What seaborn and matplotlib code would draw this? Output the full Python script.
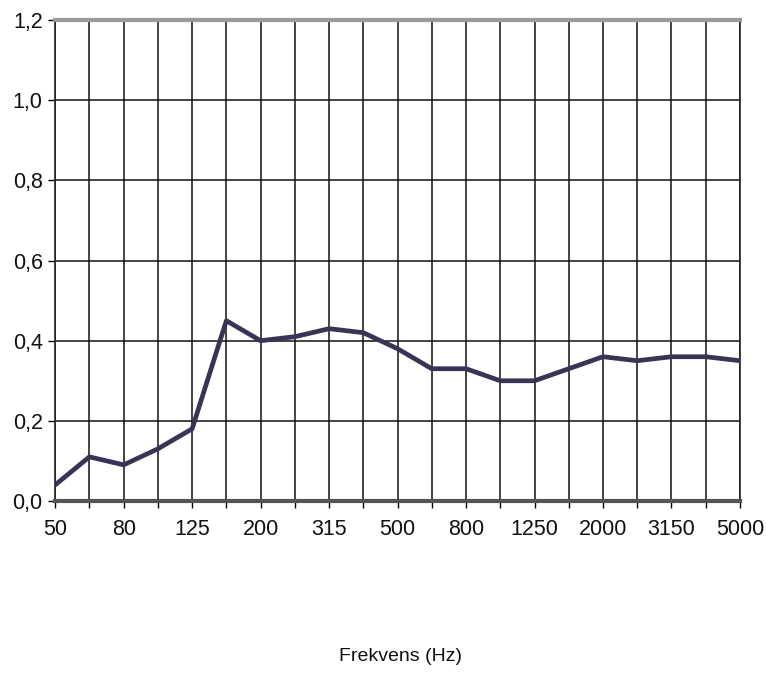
import matplotlib.pyplot as plt
import matplotlib.ticker as mticker
import pandas as pd
import seaborn as sns

sns.set_theme(style="white")
plt.rcParams["font.family"] = ["Liberation Sans", "DejaVu Sans"]

frequencies = ["50", "63", "80", "100", "125", "160", "200", "250", "315", "400", "500",
               "630", "800", "1000", "1250", "1600", "2000", "2500", "3150", "4000", "5000"]
absorption = [0.04, 0.11, 0.09, 0.13, 0.18, 0.45, 0.40, 0.41, 0.43, 0.42, 0.38,
              0.33, 0.33, 0.30, 0.30, 0.33, 0.36, 0.35, 0.36, 0.36, 0.35]
y_ticks = [0.0, 0.2, 0.4, 0.6, 0.8, 1.0, 1.2]

df = pd.DataFrame({"freq": frequencies, "alpha": absorption})

fig = plt.figure(figsize=(7.66, 6.76), dpi=100)
ax = fig.add_axes([0.072, 0.259, 0.894, 0.711])

sns.lineplot(data=df, x="freq", y="alpha", sort=False, color="#3b3355",
             linewidth=3.4, ax=ax, zorder=5)

ax.set_xlim(0, len(frequencies) - 1)
ax.set_ylim(0, 1.2)

# full grid on every band, labels only on every other
ax.set_xticks(range(len(frequencies)))
ax.set_xticklabels([f if i % 2 == 0 else "" for i, f in enumerate(frequencies)], fontsize=15.5)
ax.set_yticks(y_ticks)
ax.yaxis.set_major_formatter(mticker.FuncFormatter(lambda v, p: f"{v:.1f}".replace(".", ",")))
ax.tick_params(axis="y", labelsize=15.5, length=5, width=1, color="black", left=True, pad=4)
ax.tick_params(axis="x", length=5, width=1, color="black", bottom=True, pad=8)
for lbl in ax.get_xticklabels() + ax.get_yticklabels():
    lbl.set_color("#111111")

ax.grid(True, color="#111111", linewidth=1.1)
for side in ["left", "right"]:
    ax.spines[side].set_color("#222222")
    ax.spines[side].set_linewidth(1.2)
ax.spines["top"].set_color("#9a9a9a")
ax.spines["top"].set_linewidth(3)
ax.spines["bottom"].set_color("#555555")
ax.spines["bottom"].set_linewidth(3)

ax.set_xlabel("Frekvens (Hz)", fontsize=14, color="#111111")
ax.xaxis.set_label_coords(0.505, -0.305)
ax.set_ylabel("")

plt.savefig("out.png", dpi=100)
